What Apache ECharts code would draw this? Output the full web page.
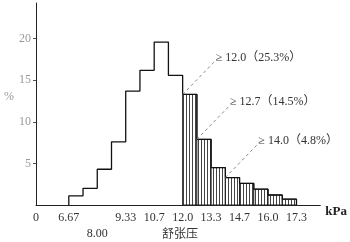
<!DOCTYPE html>
<html>
<head>
<meta charset="utf-8">
<script src="https://cdn.jsdelivr.net/npm/echarts@6/dist/echarts.min.js"></script>
<style>html,body{margin:0;padding:0;background:#fff}#c{width:350px;height:242px}</style>
</head>
<body>
<div id="c"></div>
<script>
// ---- data ----
var binEdges = [6.667, 7.333, 8.0, 8.667, 9.333, 10.0, 10.667, 11.333, 12.0, 12.667, 13.333, 14.0, 14.667, 15.333, 16.0, 16.667, 17.333];
var binValues = [1.1, 2.0, 4.3, 7.6, 13.7, 16.2, 19.6, 15.6, 13.3, 7.9, 4.5, 3.3, 2.6, 1.9, 1.2, 0.7];
var hatchFrom = 12.0;
var xTickValues = [5.13, 6.667, 8.0, 9.333, 10.667, 12.0, 13.333, 14.667, 16.0, 17.333];
var xTickLabels = ['0', '6.67', '\n8.00', '9.33', '10.7', '12.0', '13.3', '14.7', '16.0', '17.3'];
var yTickValues = [5, 10, 15, 20];
var annoThresholds = [12.0, 12.667, 14.0];
var annoLabels = ['12.0（25.3%）', '12.7（14.5%）', '14.0（4.8%）'];

// ---- derived ----
var outline = [[binEdges[0], 0]];
for (var i = 0; i < binValues.length; i++) outline.push([binEdges[i], binValues[i]]);
outline.push([binEdges[binEdges.length - 1], 0]);

var hatched = [];
for (var i = 0; i < binValues.length; i++) {
  if (binEdges[i] >= hatchFrom - 1e-6) hatched.push([binEdges[i], binEdges[i + 1], binValues[i]]);
}
var annos = [];
for (var k = 0; k < annoThresholds.length; k++) {
  var idx = 0;
  for (var i = 0; i < binValues.length; i++) if (Math.abs(binEdges[i] - annoThresholds[k]) < 1e-3) idx = i;
  annos.push([binEdges[idx], binValues[idx], annoLabels[k]]);
}

// stripe pattern
var pc = document.createElement('canvas');
pc.width = 3; pc.height = 4;
var pctx = pc.getContext('2d');
pctx.fillStyle = '#fff'; pctx.fillRect(0, 0, 3, 4);
pctx.fillStyle = '#444'; pctx.fillRect(0, 0, 1, 4);

var serif = '"Liberation Serif", "DejaVu Serif", "Noto Sans CJK SC", serif';
var chart = echarts.init(document.getElementById('c'), null, {renderer: 'canvas'});
chart.setOption({
  animation: false,
  backgroundColor: '#fff',
  grid: {left: 36, right: 28, top: 3, bottom: 35},
  xAxis: {
    type: 'value', min: 5.13, max: 18.45,
    splitLine: {show: false},
    axisLine: {lineStyle: {color: '#222', width: 1}},
    axisTick: {show: false},
    name: 'kPa', nameLocation: 'end', nameGap: 5,
    nameTextStyle: {fontFamily: serif, fontSize: 13, fontWeight: 'bold', color: '#222', verticalAlign: 'top', padding: [0, 0, 0, 0]},
    axisLabel: {
      customValues: xTickValues,
      fontFamily: serif, fontSize: 12, color: '#333', margin: 5, lineHeight: 16,
      formatter: function (v) {
        for (var i = 0; i < xTickValues.length; i++) if (Math.abs(v - xTickValues[i]) < 1e-3) return xTickLabels[i];
        return '';
      }
    }
  },
  yAxis: {
    type: 'value', min: 0, max: 24.3,
    splitLine: {show: false},
    axisLine: {show: true, lineStyle: {color: '#222', width: 1}},
    axisTick: {show: true, customValues: yTickValues, length: 3, lineStyle: {color: '#555'}},
    axisLabel: {customValues: yTickValues, fontFamily: serif, fontSize: 12, color: '#999', margin: 5}
  },
  graphic: [
    {type: 'text', left: 4, top: 91, style: {text: '%', font: '12px ' + serif, fill: '#999'}},
    {type: 'text', left: 162, top: 227, style: {text: '舒张压', font: '12px "Noto Sans CJK SC", sans-serif', fill: '#333'}}
  ],
  series: [
    {
      type: 'custom',
      data: hatched,
      z: 1,
      renderItem: function (params, api) {
        var p0 = api.coord([api.value(0), api.value(2)]);
        var p1 = api.coord([api.value(1), 0]);
        return {
          type: 'rect',
          shape: {x: p0[0], y: p0[1], width: p1[0] - p0[0], height: p1[1] - p0[1]},
          style: {fill: {image: pc, repeat: 'repeat'}, stroke: '#222', lineWidth: 1}
        };
      }
    },
    {
      type: 'line',
      data: outline,
      step: 'end',
      symbol: 'none',
      z: 3,
      lineStyle: {color: '#111', width: 1.3}
    },
    {
      type: 'custom',
      data: annos,
      z: 5,
      renderItem: function (params, api) {
        var p = api.coord([api.value(0), api.value(1)]);
        var e = [p[0] + 33, p[1] - 34];
        return {
          type: 'group',
          children: [
            {type: 'line', shape: {x1: p[0], y1: p[1], x2: e[0], y2: e[1]}, style: {stroke: '#888', lineWidth: 1, lineDash: [3, 3]}},
            {type: 'text', x: e[0], y: e[1] - 3, style: {text: '≥ ' + api.value(2), font: '12px ' + serif, fill: '#333', verticalAlign: 'middle', align: 'left'}}
          ]
        };
      }
    }
  ]
});
</script>
</body>
</html>
